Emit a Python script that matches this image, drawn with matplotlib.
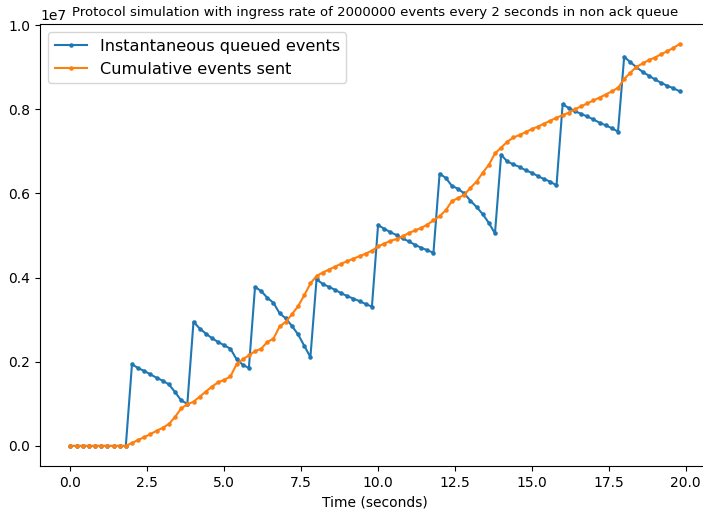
import numpy as np
import matplotlib.pyplot as plt

# time axis: samples every 0.2 s
time_s = np.round(np.arange(0, 20, 0.2), 1)

# instantaneous queued events (millions)
queued = [
    0, 0, 0, 0, 0, 0, 0, 0, 0, 0,
    1.94, 1.85, 1.78, 1.70, 1.62, 1.55, 1.46, 1.28, 1.08, 1.00,
    2.95, 2.79, 2.67, 2.56, 2.47, 2.39, 2.31, 2.06, 1.93, 1.85,
    3.78, 3.68, 3.52, 3.40, 3.15, 3.03, 2.85, 2.65, 2.38, 2.11,
    3.96, 3.85, 3.78, 3.71, 3.63, 3.56, 3.50, 3.44, 3.37, 3.31,
    5.25, 5.16, 5.08, 5.01, 4.93, 4.86, 4.78, 4.71, 4.65, 4.59,
    6.47, 6.37, 6.18, 6.11, 6.00, 5.83, 5.68, 5.51, 5.30, 5.05,
    6.92, 6.76, 6.69, 6.63, 6.55, 6.49, 6.41, 6.34, 6.28, 6.19,
    8.12, 8.03, 7.96, 7.89, 7.83, 7.76, 7.68, 7.62, 7.55, 7.47,
    9.25, 9.12, 9.00, 8.89, 8.80, 8.71, 8.63, 8.56, 8.50, 8.43,
]

# cumulative events sent (millions)
sent = [
    0, 0, 0, 0, 0, 0, 0, 0, 0, 0,
    0.07, 0.14, 0.21, 0.28, 0.36, 0.43, 0.52, 0.69, 0.89, 0.99,
    1.05, 1.17, 1.29, 1.41, 1.51, 1.57, 1.65, 1.94, 2.06, 2.15,
    2.25, 2.31, 2.47, 2.55, 2.84, 2.95, 3.13, 3.32, 3.58, 3.86,
    4.04, 4.12, 4.19, 4.26, 4.33, 4.39, 4.45, 4.51, 4.57, 4.64,
    4.74, 4.81, 4.87, 4.92, 4.98, 5.06, 5.12, 5.18, 5.26, 5.36,
    5.46, 5.60, 5.82, 5.89, 5.97, 6.13, 6.28, 6.49, 6.68, 6.95,
    7.09, 7.23, 7.33, 7.39, 7.46, 7.53, 7.59, 7.66, 7.73, 7.80,
    7.86, 7.92, 8.00, 8.07, 8.14, 8.21, 8.28, 8.35, 8.43, 8.51,
    8.72, 8.87, 9.01, 9.09, 9.17, 9.23, 9.31, 9.38, 9.46, 9.55,
]

queued = np.array(queued) * 1e6
sent = np.array(sent) * 1e6

fig = plt.figure(figsize=(7.03, 5.11), dpi=100)
# the right edge of the axes runs just past the image, as in the reference
ax = fig.add_axes([40 / 703, 45 / 511, 670 / 703, 442 / 511])

ax.plot(time_s, queued, marker=".", markersize=4.5, label="Instantaneous queued events")
ax.plot(time_s, sent, marker=".", markersize=4.5, label="Cumulative events sent")

ax.set_title("Protocol simulation with ingress rate of 2000000 events every 2 seconds in non ack queue",
             fontsize=9.5)
ax.set_xlabel("Time (seconds)")
ax.legend(fontsize=11.6, loc="upper left")

plt.savefig("out.png", dpi=100)
